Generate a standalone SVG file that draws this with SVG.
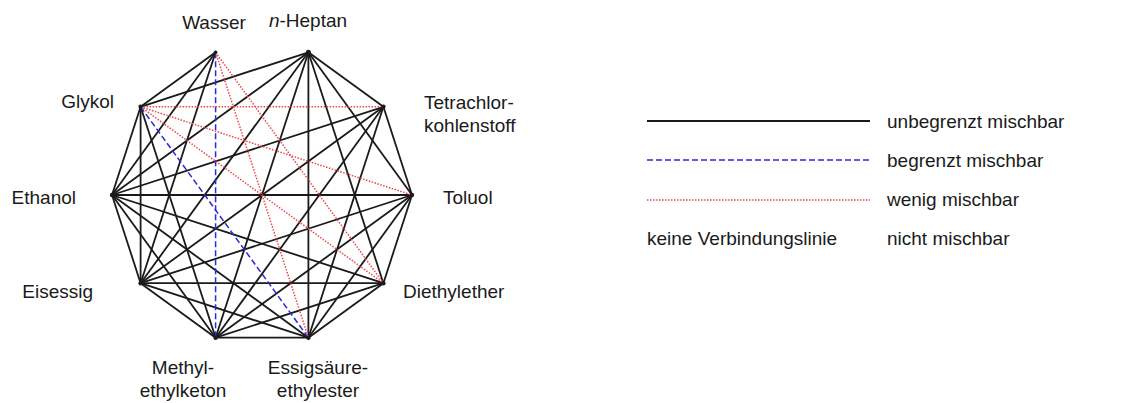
<svg xmlns="http://www.w3.org/2000/svg" width="1131" height="403" viewBox="0 0 1131 403">
<style>
text{font-family:"Liberation Sans",Arial,sans-serif;font-size:19px;fill:#1a1a1a}
.b{stroke:#1a1a1a;stroke-width:1.8;fill:none}
.u{stroke:#2a2ad8;stroke-width:1.5;stroke-dasharray:6 3;fill:none}
.r{stroke:#e8474c;stroke-width:1.5;stroke-dasharray:1.5 1.5;fill:none}
.dot{fill:#1a1a1a}
</style>
<rect width="1131" height="403" fill="#fff"/>
<g id="connectors">
<line class="b" x1="215.6" y1="52.3" x2="140.6" y2="106.8"/>
<line class="b" x1="215.6" y1="52.3" x2="112" y2="195"/>
<line class="b" x1="215.6" y1="52.3" x2="140.6" y2="283.2"/>
<line class="b" x1="308.4" y1="52.3" x2="383.4" y2="106.8"/>
<line class="b" x1="308.4" y1="52.3" x2="412" y2="195"/>
<line class="b" x1="308.4" y1="52.3" x2="383.4" y2="283.2"/>
<line class="b" x1="308.4" y1="52.3" x2="308.4" y2="337.7"/>
<line class="b" x1="308.4" y1="52.3" x2="215.6" y2="337.7"/>
<line class="b" x1="308.4" y1="52.3" x2="140.6" y2="283.2"/>
<line class="b" x1="308.4" y1="52.3" x2="112" y2="195"/>
<line class="b" x1="308.4" y1="52.3" x2="140.6" y2="106.8"/>
<line class="b" x1="383.4" y1="106.8" x2="412" y2="195"/>
<line class="b" x1="383.4" y1="106.8" x2="308.4" y2="337.7"/>
<line class="b" x1="383.4" y1="106.8" x2="215.6" y2="337.7"/>
<line class="b" x1="383.4" y1="106.8" x2="140.6" y2="283.2"/>
<line class="b" x1="383.4" y1="106.8" x2="112" y2="195"/>
<line class="b" x1="412" y1="195" x2="383.4" y2="283.2"/>
<line class="b" x1="412" y1="195" x2="308.4" y2="337.7"/>
<line class="b" x1="412" y1="195" x2="215.6" y2="337.7"/>
<line class="b" x1="412" y1="195" x2="140.6" y2="283.2"/>
<line class="b" x1="412" y1="195" x2="112" y2="195"/>
<line class="b" x1="383.4" y1="283.2" x2="308.4" y2="337.7"/>
<line class="b" x1="383.4" y1="283.2" x2="215.6" y2="337.7"/>
<line class="b" x1="383.4" y1="283.2" x2="140.6" y2="283.2"/>
<line class="b" x1="383.4" y1="283.2" x2="112" y2="195"/>
<line class="b" x1="308.4" y1="337.7" x2="215.6" y2="337.7"/>
<line class="b" x1="308.4" y1="337.7" x2="140.6" y2="283.2"/>
<line class="b" x1="308.4" y1="337.7" x2="112" y2="195"/>
<line class="b" x1="215.6" y1="337.7" x2="140.6" y2="283.2"/>
<line class="b" x1="215.6" y1="337.7" x2="112" y2="195"/>
<line class="b" x1="215.6" y1="337.7" x2="140.6" y2="106.8"/>
<line class="b" x1="140.6" y1="283.2" x2="112" y2="195"/>
<line class="b" x1="140.6" y1="283.2" x2="140.6" y2="106.8"/>
<line class="b" x1="112" y1="195" x2="140.6" y2="106.8"/>
<line class="u" x1="215.6" y1="52.3" x2="215.6" y2="337.7"/>
<line class="u" x1="140.6" y1="106.8" x2="308.4" y2="337.7"/>
<line class="r" x1="215.6" y1="52.3" x2="308.4" y2="337.7"/>
<line class="r" x1="215.6" y1="52.3" x2="383.4" y2="283.2"/>
<line class="r" x1="140.6" y1="106.8" x2="383.4" y2="106.8"/>
<line class="r" x1="140.6" y1="106.8" x2="412" y2="195"/>
<line class="r" x1="140.6" y1="106.8" x2="383.4" y2="283.2"/>
</g>
<g id="wasser"><circle class="dot" cx="215.6" cy="52.3" r="1.8"/><text x="214" y="29" text-anchor="middle">Wasser</text></g>
<g id="heptan"><circle class="dot" cx="308.4" cy="52.3" r="2.5"/><text x="308" y="27" text-anchor="middle"><tspan font-style="italic">n</tspan>-Heptan</text></g>
<g id="tetrachlor"><circle class="dot" cx="383.4" cy="106.8" r="2.2"/><text x="424" y="109">Tetrachlor-</text><text x="424" y="132">kohlenstoff</text></g>
<g id="toluol"><circle class="dot" cx="412" cy="195" r="2.2"/><text x="443" y="204">Toluol</text></g>
<g id="diethylether"><circle class="dot" cx="383.4" cy="283.2" r="2.2"/><text x="403" y="298">Diethylether</text></g>
<g id="essigester"><circle class="dot" cx="308.4" cy="337.7" r="2.2"/><text x="318" y="374" text-anchor="middle">Essigsäure-</text><text x="318" y="397" text-anchor="middle">ethylester</text></g>
<g id="mek"><circle class="dot" cx="215.6" cy="337.7" r="2.2"/><text x="183" y="374" text-anchor="middle">Methyl-</text><text x="183" y="397" text-anchor="middle">ethylketon</text></g>
<g id="eisessig"><circle class="dot" cx="140.6" cy="283.2" r="2.2"/><text x="93" y="298" text-anchor="end">Eisessig</text></g>
<g id="ethanol"><circle class="dot" cx="112" cy="195" r="2.2"/><text x="76" y="204" text-anchor="end">Ethanol</text></g>
<g id="glykol"><circle class="dot" cx="140.6" cy="106.8" r="2.2"/><text x="114" y="108" text-anchor="end">Glykol</text></g>
<g id="legend">
<line class="b" x1="647" y1="121" x2="870" y2="121"/>
<line class="u" x1="647" y1="160" x2="870" y2="160"/>
<line class="r" x1="647" y1="200" x2="870" y2="200"/>
<text x="887" y="128">unbegrenzt mischbar</text>
<text x="887" y="167">begrenzt mischbar</text>
<text x="887" y="206">wenig mischbar</text>
<text x="647" y="245">keine Verbindungslinie</text>
<text x="887" y="245">nicht mischbar</text>
</g>
</svg>
